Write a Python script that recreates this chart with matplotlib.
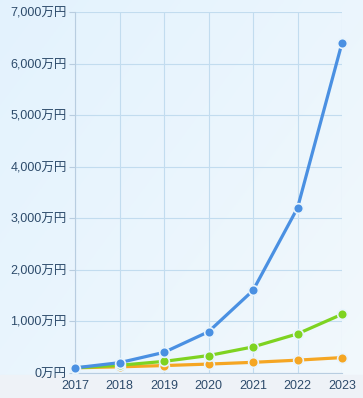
import numpy as np
import matplotlib
matplotlib.use("Agg")
from matplotlib import pyplot as plt
from matplotlib.patches import Rectangle

plt.rcParams['font.family'] = ['Liberation Sans', 'Noto Sans CJK JP', 'DejaVu Sans']

years = [2017, 2018, 2019, 2020, 2021, 2022, 2023]
blue_vals = [100, 200, 400, 800, 1600, 3200, 6400]
green_vals = [100, 150, 225, 338, 506, 759, 1139]
orange_vals = [100, 120, 144, 173, 207, 249, 299]
yticks = [0, 1000, 2000, 3000, 4000, 5000, 6000, 7000]

W, H = 363, 398
fig = plt.figure(figsize=(W / 100, H / 100), dpi=100)

# background gradient
bg = fig.add_axes([0, 0, 1, 1], zorder=-10)
gx = np.linspace(0, 1, 200)
gy = np.linspace(0, 1, 200)
GX, GY = np.meshgrid(gx, gy)
t = 0.55 * GX + 0.45 * GY
c0 = np.array([0.89, 0.95, 0.995])
c1 = np.array([0.95, 0.975, 0.99])
img = c0[None, None, :] * (1 - t[..., None]) + c1[None, None, :] * t[..., None]
bg.imshow(img, extent=[0, 1, 0, 1], aspect='auto', origin='upper')
bg.add_patch(Rectangle((0, 0), 1, 23 / H, color='#eef2f7', zorder=2))
bg.axis('off')

ax = fig.add_axes([75 / W, 25 / H, 267 / W, 361 / H])
ax.patch.set_alpha(0)

kw = dict(lw=2.3, marker='o', markersize=7, markeredgecolor='#e8f4fc',
          markeredgewidth=1.2, solid_capstyle='round', clip_on=False)
ax.plot(years, orange_vals, color='#f5a623', zorder=3, **kw)
ax.plot(years, green_vals, color='#7ed321', zorder=4, **kw)
ax.plot(years, blue_vals, color='#4a90e2', zorder=5, **kw)

ax.set_xlim(2017, 2023)
ax.set_ylim(0, 7000)
ax.set_xticks(years)
ax.set_yticks(yticks)
ax.set_yticklabels(['{:,}万円'.format(v) for v in yticks])
ax.grid(True, color='#c2dcef', lw=0.8)
ax.set_axisbelow(True)
for s in ['top', 'right']:
    ax.spines[s].set_visible(False)
ax.spines['left'].set_color('#b8cde0')
ax.spines['bottom'].set_color('#b8cde0')
ax.tick_params(colors='#2d4b6b', labelsize=9, length=0, pad=5)
ax.tick_params(axis='y', length=4, color='#b8cde0', pad=2)

fig.savefig('out.png', dpi=100)
